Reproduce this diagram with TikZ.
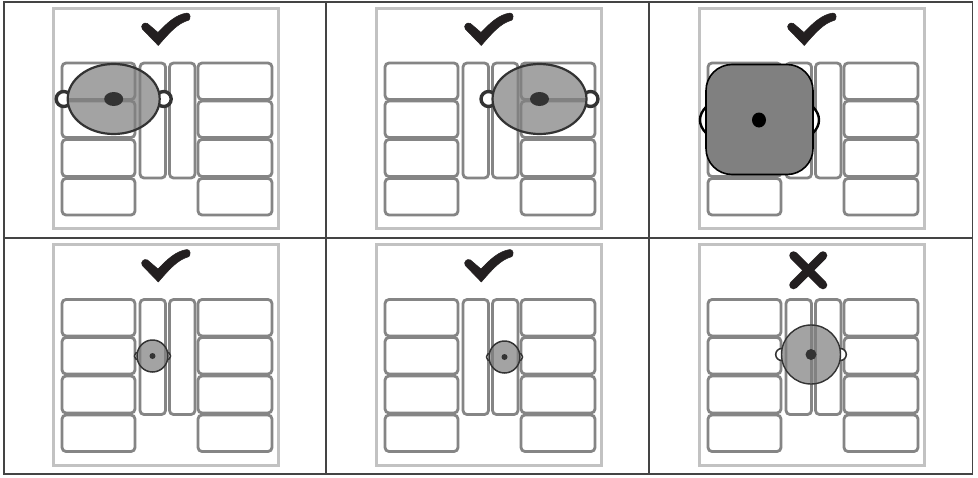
\documentclass[tikz,border=0pt]{standalone}
\definecolor{slotc}{HTML}{858585}
\definecolor{framec}{HTML}{C2C2C2}
\definecolor{markc}{HTML}{231F20}
\definecolor{gridc}{HTML}{444444}
\definecolor{panc}{HTML}{333333}
\tikzset{
  gridline/.style={draw=gridc,line width=1.3pt},
  boardframe/.style={draw=framec,line width=3pt},
  slot/.style={draw=slotc,line width=2.8pt,rounded corners=4pt,fill=white},
  panfill/.style={fill=black!50,fill opacity=.72,draw=panc},
  panhandle/.style={draw=panc,fill=white},
  knob/.style={fill=panc,draw=none},
  tick/.style={fill=markc,draw=markc,line width=.5pt,line join=round},
  crossline/.style={draw=markc,line width=8.5pt,line cap=round}
}
\newcommand{\board}[2]{%
  \begin{scope}[shift={(#1,#2)}]
    \draw[boardframe] (53,8) rectangle (278,228.5);
    \foreach \ya/\yb in {63/99.5,101/137.5,139.5/176.5,178.5/215}{
      \draw[slot] (62,\ya) rectangle (135,\yb);
      \draw[slot] (198,\ya) rectangle (272,\yb);
    }
    \draw[slot] (140,63) rectangle (165.5,178);
    \draw[slot] (169.5,63) rectangle (195,178);
  \end{scope}}
\newcommand{\tickmark}[2]{%
  \begin{scope}[shift={(#1,#2)}]
    \path[tick] (158.3,45.5) -- (142.3,29) .. controls (140,25.5) and (144,21.5) .. (147.5,23.5) -- (158,32.5) .. controls (167,23) and (176,14.5) .. (187,13) .. controls (190.5,13) and (191,18.5) .. (188.8,20.2) .. controls (178,23) and (170,32) .. cycle;
  \end{scope}}
% cx cy rx ry handle-radius handle-offset line-width knob-rx knob-ry
\newcommand{\handlewidth}{1.5pt}
\newcommand{\roundpan}[9]{%
  \begin{scope}[even odd rule]
    \clip (0,0) rectangle (978,477) (#1,#2) ellipse[x radius=#3,y radius=#4];
    \draw[panhandle,line width=\handlewidth] (#1-#3-#6,#2) circle[radius=#5];
    \draw[panhandle,line width=\handlewidth] (#1+#3+#6,#2) circle[radius=#5];
  \end{scope}
  \draw[panfill,line width=#7] (#1,#2) ellipse[x radius=#3,y radius=#4];
  \fill[knob] (#1,#2) ellipse[x radius=#8,y radius=#9];}
\begin{document}
\begin{tikzpicture}[x=1pt,y=-1pt]
\useasboundingbox (0,0) rectangle (978,477);
\fill[white] (0,0) rectangle (978,477);
% table rules
\draw[gridline] (4,2) rectangle (972.5,474);
\draw[gridline] (4,238) -- (972.5,238);
\draw[gridline] (326,2) -- (326,474);
\draw[gridline] (649,2) -- (649,474);
% boards
\board{0}{0}\board{323}{0}\board{646}{0}
\board{0}{236.5}\board{323}{236.5}\board{646}{236.5}
% marks
\tickmark{0}{0}\tickmark{323}{0}\tickmark{646}{0}
\tickmark{0}{236.5}\tickmark{323}{236.5}
\draw[crossline] (793.5,255.5) -- (823,285);
\draw[crossline] (823,255.5) -- (793.5,285);
% large pans
\renewcommand{\handlewidth}{3.4pt}
\roundpan{113.7}{99}{46}{35}{7.5}{4}{2.2pt}{9.5}{7}
\roundpan{539.5}{99}{47}{35}{7.5}{4}{2.2pt}{9.5}{7}
% square pot
\draw[black,line width=2.4pt,fill=white] (706,107) .. controls (698,115) and (698,125) .. (706,133);
\draw[black,line width=2.4pt,fill=white] (813,107) .. controls (821,115) and (821,125) .. (813,133);
\draw[black,line width=1.6pt,fill=black!50,rounded corners=26pt] (706,64.5) rectangle (813,174.5);
\fill[black] (759,120) ellipse[x radius=7,y radius=7.5];
% small pans
\renewcommand{\handlewidth}{1.5pt}
\roundpan{152.5}{356}{15.5}{16}{4}{-1.5}{1.5pt}{3}{3}
\roundpan{504.5}{357}{15.5}{16}{4}{-1.5}{1.5pt}{3}{3}
\roundpan{811}{354.5}{29.5}{29.5}{6}{-0.2}{1.4pt}{5.5}{5.5}
\end{tikzpicture}
\end{document}
